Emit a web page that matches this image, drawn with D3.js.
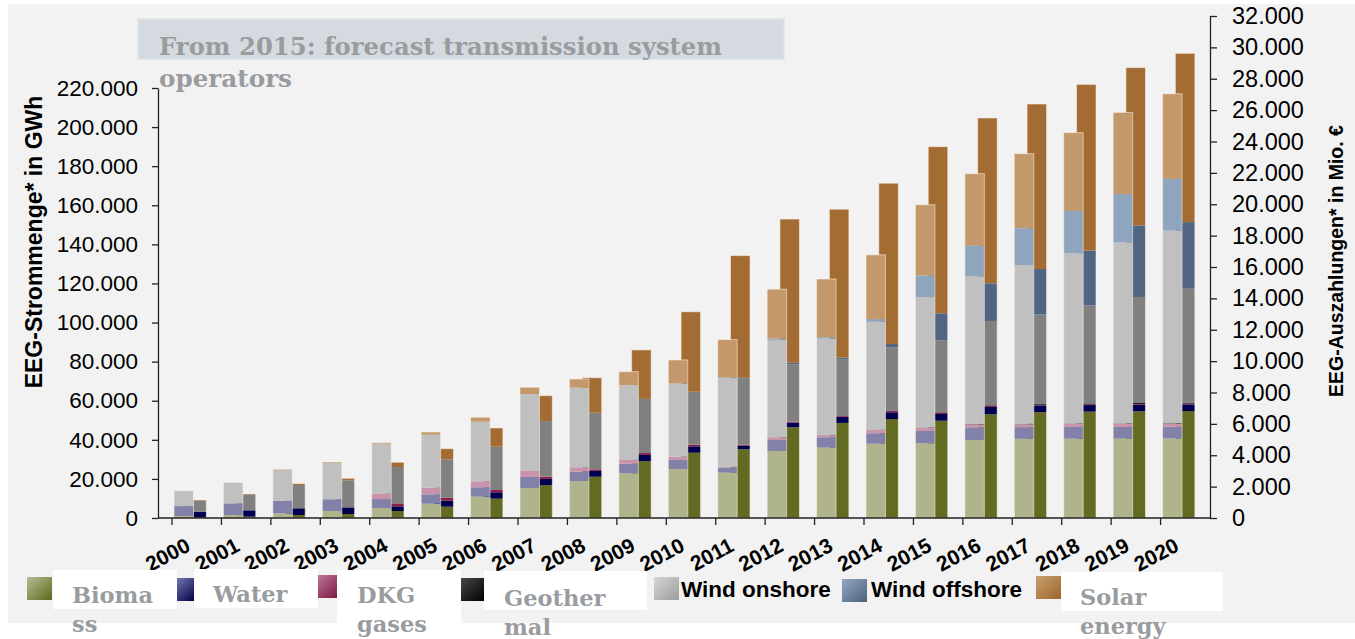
<!DOCTYPE html>
<html>
<head>
<meta charset="utf-8">
<script src="https://cdn.jsdelivr.net/npm/d3@7"></script>
<style>
  html, body { margin: 0; padding: 0; background: #ffffff; }
  svg { display: block; }
</style>
</head>
<body>
<svg id="chart" width="1355" height="639"></svg>
<script>
// ---------------- DATA ----------------
const years = ["2000","2001","2002","2003","2004","2005","2006","2007","2008","2009","2010",
               "2011","2012","2013","2014","2015","2016","2017","2018","2019","2020"];

const seriesKeys = ["Biomass","Water","DKG gases","Geothermal","Wind onshore","Wind offshore","Solar energy"];

// EEG quantities (GWh) - left axis, left bar of each year
const biomassGWh  = [1000,1500,2400,3600,5100,7300,10900,15350,18930,22870,25070,23180,34300,36000,38000,38200,39900,40500,40600,40600,40700];
const waterGWh    = [5100,6000,6450,6000,4600,4800,4800,5630,4760,4910,4600,2700,5600,5300,5330,6300,6500,6000,6000,6000,6000];
const dkgGWh      = [0,0,0,0,2900,3400,3070,3070,2250,1890,1690,300,1400,1000,1700,1700,1540,1500,1500,1500,1500];
const geoGWh      = [0,0,0,0,0,0,0,0,20,20,30,20,30,80,100,130,170,200,220,250,280];
const windOnGWh   = [7700,10500,15850,18550,25400,27100,30500,39390,40720,38370,37350,45380,49800,49400,55250,66700,75500,81200,87200,92700,98600];
const windOffGWh  = [0,0,0,0,0,0,0,0,0,0,170,300,650,700,1380,11050,15700,18830,21590,24710,26400];
const solarGWh    = [100,150,300,500,550,1400,2250,3430,4450,6810,11970,19400,25300,29800,32900,36200,36840,38170,40060,41750,43550];

// EEG payments (Mio. €) - right axis, right bar of each year
const biomassEUR  = [64,85,190,255,446,720,1230,2100,2630,3630,4160,4380,5780,6060,6310,6200,6610,6750,6780,6800,6820];
const waterEUR    = [336,405,430,425,300,380,410,390,370,390,410,230,295,400,430,430,470,420,420,420,420];
const dkgEUR      = [0,0,0,0,190,195,145,140,100,120,100,60,65,60,80,80,60,50,50,50,50];
const geoEUR      = [0,0,0,0,0,0,0,0,3,4,6,5,6,20,25,30,40,50,55,60,65];
const windOnEUR   = [684,975,1480,1720,2315,2445,2760,3550,3610,3450,3360,4210,3650,3600,4015,4590,5380,5700,6245,6760,7265];
const windOffEUR  = [0,0,0,0,0,0,0,0,0,0,10,50,100,85,230,1720,2400,2900,3500,4560,4240];
const solarEUR    = [60,65,90,130,300,680,1195,1620,2230,3120,5100,7790,9160,9460,10250,10620,10540,10520,10590,10060,10760];

const leftTicks  = [0,20000,40000,60000,80000,100000,120000,140000,160000,180000,200000,220000];
const rightTicks = [0,2000,4000,6000,8000,10000,12000,14000,16000,18000,20000,22000,24000,26000,28000,30000,32000];

const titleLines = ["From 2015: forecast transmission system", "operators"];
const leftTitle  = "EEG-Strommenge* in GWh";
const rightTitle = "EEG-Auszahlungen* in Mio. €";

// ---------------- STYLES ----------------
const lightColors = {"Biomass":"#b0b48c","Water":"#8181a9","DKG gases":"#c993ab","Geothermal":"#3a3a3a",
  "Wind onshore":"#c0c0c0","Wind offshore":"#8ea5bd","Solar energy":"#c3996b"};
const darkColors  = {"Biomass":"#636b23","Water":"#000050","DKG gases":"#8a1d4c","Geothermal":"#111111",
  "Wind onshore":"#808080","Wind offshore":"#4f6583","Solar energy":"#a36c33"};
const gradStops   = {"Biomass":["#b8bc94","#5c6a1c"],"Water":["#8a8ac0","#000048"],"DKG gases":["#c8849f","#7c1845"],
  "Geothermal":["#4a4a4a","#000000"],"Wind onshore":["#d6d6d6","#9c9c9c"],"Wind offshore":["#93a9c1","#4a5f7c"],
  "Solar energy":["#c9a072","#9c6428"]};

const legendLayout = [
  {key:"Biomass",       sw:[27,577],   box:[53,570,124,39],   tx:72,   lines:["Bioma","ss"],    y0:603, serif:true},
  {key:"Water",         sw:[169.5,578],box:[194,569,124,39],  tx:213,  lines:["Water"],         y0:602, serif:true},
  {key:"DKG gases",     sw:[312,575],  box:[337,570,124,69],  tx:357,  lines:["DKG","gases"],   y0:603, serif:true},
  {key:"Geothermal",    sw:[459,578],  box:[484,571,163,39],  tx:504,  lines:["Geother","mal"], y0:606, serif:true},
  {key:"Wind onshore",  sw:[654,577],  box:null,              tx:681,  lines:["Wind onshore"],  y0:597, serif:false},
  {key:"Wind offshore", sw:[842,579],  box:null,              tx:871,  lines:["Wind offshore"], y0:597, serif:false},
  {key:"Solar energy",  sw:[1036,576], box:[1061,572,162,39], tx:1080, lines:["Solar","energy"],y0:605, serif:true}
];

// ---------------- BUILD ----------------
const svg = d3.select("#chart");
const fmt = d3.formatLocale({decimal:",", thousands:".", grouping:[3], currency:["","€"]}).format(",d");

const gwh = years.map((y,i)=>({year:y,"Biomass":biomassGWh[i],"Water":waterGWh[i],"DKG gases":dkgGWh[i],
  "Geothermal":geoGWh[i],"Wind onshore":windOnGWh[i],"Wind offshore":windOffGWh[i],"Solar energy":solarGWh[i]}));
const eur = years.map((y,i)=>({year:y,"Biomass":biomassEUR[i],"Water":waterEUR[i],"DKG gases":dkgEUR[i],
  "Geothermal":geoEUR[i],"Wind onshore":windOnEUR[i],"Wind offshore":windOffEUR[i],"Solar energy":solarEUR[i]}));

const x  = d3.scaleBand().domain(years).range([172,1210]).paddingInner(0).paddingOuter(0);
const yL = d3.scaleLinear().domain([0,220000]).range([518,88]);
const yR = d3.scaleLinear().domain([0,32000]).range([518,16]);

const stack = d3.stack().keys(seriesKeys);
const sG = stack(gwh), sE = stack(eur);

// background
svg.append("rect").attr("x",8).attr("y",4).attr("width",1347).attr("height",619).attr("fill","#f2f2f2");

// gradients
const defs = svg.append("defs");
seriesKeys.forEach((k,i)=>{
  const g = defs.append("linearGradient").attr("id","g"+i).attr("x1",0).attr("y1",0).attr("x2",1).attr("y2",1);
  g.append("stop").attr("offset","0%").attr("stop-color",gradStops[k][0]);
  g.append("stop").attr("offset","100%").attr("stop-color",gradStops[k][1]);
});

// title box
svg.append("rect").attr("x",138).attr("y",19).attr("width",646).attr("height",40)
  .attr("fill","#d4dadf").attr("stroke","#dde5ea").attr("stroke-width",1.5);
svg.selectAll("text.title").data(titleLines).join("text").attr("class","title")
  .attr("x",159).attr("y",(d,i)=>55+i*32)
  .attr("font-family","'DejaVu Serif', serif").attr("font-weight","bold").attr("font-size",23.5)
  .attr("fill","#999c9f")
  .attr("textLength",(d,i)=> i===0 ? 563 : 133).attr("lengthAdjust","spacingAndGlyphs")
  .text(d=>d);

const barW = 19.5, offL = 2, offR = 14.8;

// right bars (payments) first
const gR = svg.append("g");
sE.forEach(layer=>{
  gR.selectAll(null).data(layer).join("rect")
    .attr("x",d=>x(d.data.year)+offR).attr("width",barW)
    .attr("y",d=>yR(d[1])).attr("height",d=>Math.max(0,yR(d[0])-yR(d[1])))
    .attr("fill",darkColors[layer.key]);
});
gR.selectAll("rect.o").data(eur).join("rect").attr("class","o")
  .attr("x",d=>x(d.year)+offR).attr("width",barW)
  .attr("y",d=>yR(d3.sum(seriesKeys,k=>d[k]))).attr("height",d=>yR(0)-yR(d3.sum(seriesKeys,k=>d[k])))
  .attr("fill","none").attr("stroke","rgba(255,240,232,0.55)").attr("stroke-width",1);

// left bars (quantities) on top
const gL = svg.append("g");
sG.forEach(layer=>{
  gL.selectAll(null).data(layer).join("rect")
    .attr("x",d=>x(d.data.year)+offL).attr("width",barW)
    .attr("y",d=>yL(d[1])).attr("height",d=>Math.max(0,yL(d[0])-yL(d[1])))
    .attr("fill",lightColors[layer.key]);
});
gL.selectAll("rect.o").data(gwh).join("rect").attr("class","o")
  .attr("x",d=>x(d.year)+offL).attr("width",barW)
  .attr("y",d=>yL(d3.sum(seriesKeys,k=>d[k]))).attr("height",d=>yL(0)-yL(d3.sum(seriesKeys,k=>d[k])))
  .attr("fill","none").attr("stroke","rgba(255,240,232,0.55)").attr("stroke-width",1);

// left axis
const axL = svg.append("g").attr("transform","translate(158,0)")
  .call(d3.axisLeft(yL).tickValues(leftTicks).tickFormat(fmt).tickSize(6).tickPadding(14).tickSizeOuter(0));
axL.selectAll("text").attr("font-family","'Liberation Sans', Arial, sans-serif").attr("font-size",22.5).attr("fill","#000");
axL.selectAll("line,path").attr("stroke","#222").attr("stroke-width",1.3);

// right axis
const axR = svg.append("g").attr("transform","translate(1210,0)")
  .call(d3.axisRight(yR).tickValues(rightTicks).tickFormat(fmt).tickSize(7).tickPadding(15).tickSizeOuter(0));
axR.selectAll("text").attr("font-family","'Liberation Sans', Arial, sans-serif").attr("font-size",23.5).attr("fill","#000");
axR.selectAll("line,path").attr("stroke","#222").attr("stroke-width",1.3);

// x axis baseline & ticks
svg.append("line").attr("x1",158).attr("x2",1210).attr("y1",518).attr("y2",518).attr("stroke","#222").attr("stroke-width",1.3);
svg.selectAll("line.xt").data(years).join("line").attr("class","xt")
  .attr("x1",d=>x(d)).attr("x2",d=>x(d)).attr("y1",518).attr("y2",525)
  .attr("stroke","#222").attr("stroke-width",1.3);
svg.selectAll("text.xl").data(years).join("text").attr("class","xl")
  .attr("transform",d=>`translate(${x(d)+x.bandwidth()/2-5},550) rotate(-28)`)
  .attr("text-anchor","end")
  .attr("font-family","'Liberation Sans', Arial, sans-serif").attr("font-weight","bold").attr("font-size",21)
  .attr("fill","#000").text(d=>d);

// axis titles
svg.append("text").attr("transform","translate(42,242) rotate(-90)").attr("text-anchor","middle")
  .attr("font-family","'Liberation Sans', Arial, sans-serif").attr("font-weight","bold").attr("font-size",23)
  .attr("fill","#000").text(leftTitle);
svg.append("text").attr("transform","translate(1343,261) rotate(-90)").attr("text-anchor","middle")
  .attr("font-family","'Liberation Sans', Arial, sans-serif").attr("font-weight","bold").attr("font-size",19.5)
  .attr("fill","#000").text(rightTitle);

// legend
const lg = svg.append("g");
legendLayout.forEach(item=>{
  const i = seriesKeys.indexOf(item.key);
  lg.append("rect").attr("x",item.sw[0]).attr("y",item.sw[1]).attr("width",25).attr("height",23)
    .attr("fill",`url(#g${i})`);
});
legendLayout.forEach(item=>{
  if(item.box){
    lg.append("rect").attr("x",item.box[0]).attr("y",item.box[1]).attr("width",item.box[2]).attr("height",item.box[3])
      .attr("fill","#ffffff");
  }
  item.lines.forEach((ln,j)=>{
    const t = lg.append("text").attr("x",item.tx).attr("y",item.y0+j*28.5).text(ln);
    if(item.serif){
      t.attr("font-family","'DejaVu Serif', serif").attr("font-weight","bold").attr("font-size",22.5).attr("fill","#999c9f");
    } else {
      t.attr("font-family","'Liberation Sans', Arial, sans-serif").attr("font-weight","bold").attr("font-size",22.5).attr("fill","#000");
    }
  });
});
</script>
</body>
</html>
